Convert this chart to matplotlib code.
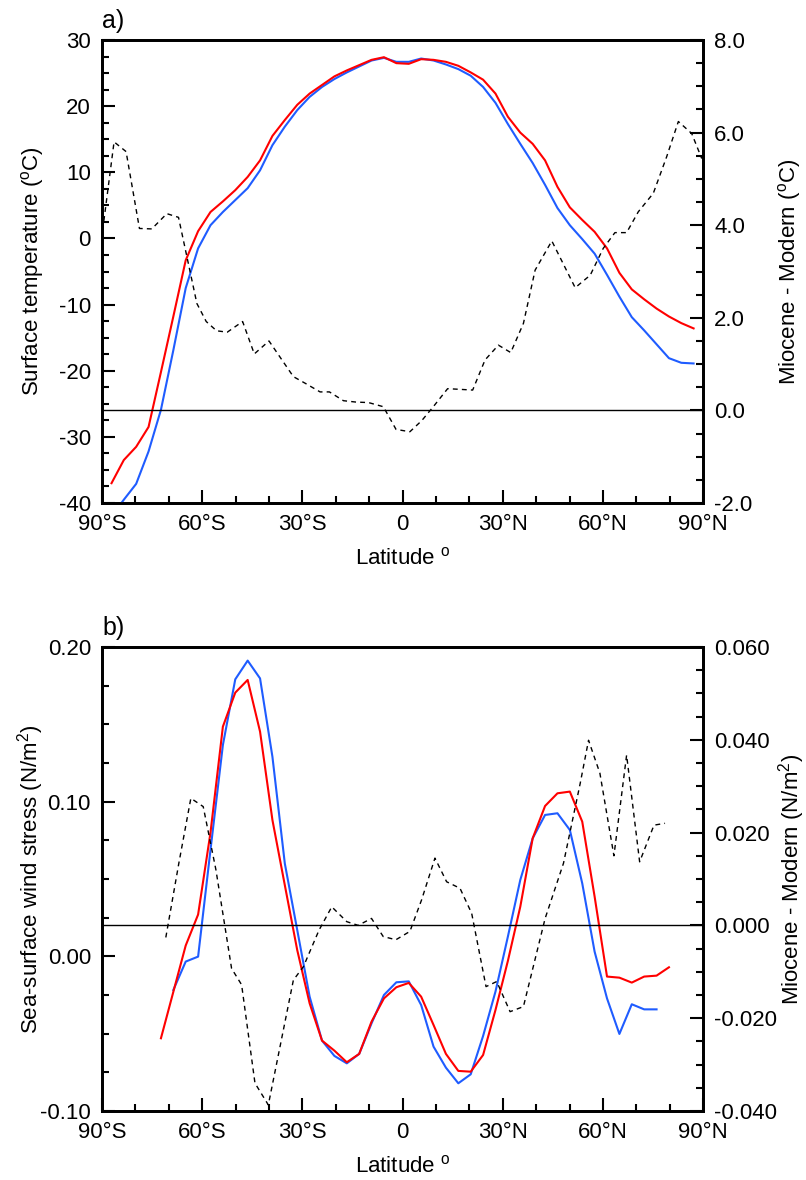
import numpy as np
import matplotlib
matplotlib.use("Agg")
import matplotlib.pyplot as plt
from matplotlib.ticker import MultipleLocator

plt.rcParams['font.family'] = ['Liberation Sans', 'DejaVu Sans']
plt.rcParams['axes.unicode_minus'] = False
plt.rcParams['mathtext.fontset'] = 'custom'
plt.rcParams['mathtext.rm'] = 'Liberation Sans'

# model latitudes (T31 gaussian grid)
lat = np.array([-87.16, -83.48, -79.78, -76.07, -72.36, -68.65, -64.94, -61.23,
                -57.52, -53.81, -50.10, -46.39, -42.68, -38.97, -35.26, -31.54,
                -27.83, -24.12, -20.41, -16.70, -12.99, -9.28, -5.57, -1.86,
                1.86, 5.57, 9.28, 12.99, 16.70, 20.41, 24.12, 27.83,
                31.54, 35.26, 38.97, 42.68, 46.39, 50.10, 53.81, 57.52,
                61.23, 64.94, 68.65, 72.36, 76.07, 79.78, 83.48, 87.16])

# a) surface temperature (C)
sat_miocene = [-37.0, -33.5, -31.5, -28.5, -20.2, -11.8, -3.3, 1.1,
               4.0, 5.6, 7.3, 9.3, 11.8, 15.5, 17.9, 20.2,
               21.9, 23.2, 24.5, 25.4, 26.2, 27.0, 27.4, 26.5,
               26.4, 27.1, 27.0, 26.7, 26.1, 25.1, 24.0, 21.9,
               18.4, 16.0, 14.3, 11.8, 7.8, 4.7, 2.8, 1.0,
               -1.5, -5.2, -7.7, -9.2, -10.6, -11.8, -12.8, -13.6]
sat_modern = [-42.0, -39.5, -37.1, -32.2, -25.9, -16.9, -7.5, -1.5,
              2.0, 4.0, 5.8, 7.6, 10.3, 14.1, 16.9, 19.4,
              21.4, 22.9, 24.1, 25.1, 26.0, 26.9, 27.3, 26.7,
              26.7, 27.2, 26.9, 26.3, 25.6, 24.6, 22.9, 20.5,
              17.3, 14.3, 11.4, 8.1, 4.6, 2.0, -0.1, -2.3,
              -5.5, -8.8, -11.9, -13.9, -16.0, -18.1, -18.8, -18.9]

sat_diff_lat = [-89.8, -86.4, -82.8, -78.8, -75.1, -70.6, -67.1, -61.6, -58.8,
                -55.7, -52.5, -47.9, -44.4, -40.0, -32.7, -29.0, -24.7, -21.9,
                -17.7, -13.9, -10.2, -5.75, -1.95, 2.2, 5.75, 9.2, 13.5, 21.0,
                24.7, 28.7, 32.4, 36.2, 39.7, 44.7, 51.7, 56.2, 60.1, 63.6,
                67.1, 70.6, 75.1, 79.1, 82.6, 86.6, 89.6]
sat_diff = [3.90, 5.80, 5.59, 3.93, 3.92, 4.25, 4.17, 2.31, 1.92,
            1.72, 1.69, 1.92, 1.22, 1.50, 0.73, 0.58, 0.40, 0.40,
            0.21, 0.18, 0.17, 0.08, -0.41, -0.46, -0.22, 0.08, 0.47, 0.44,
            1.09, 1.41, 1.25, 1.88, 3.03, 3.66, 2.65, 2.92, 3.50, 3.84,
            3.84, 4.29, 4.69, 5.48, 6.24, 5.98, 5.44]

# b) sea-surface wind stress (N/m2)
lat_red_b = lat[4:46]
lat_blue_b = lat[5:45]
tau_miocene = [-0.053, -0.023, 0.007, 0.027, 0.080, 0.1485, 0.1705, 0.1787,
               0.1453, 0.0881, 0.046, 0.004, -0.0304, -0.0545, -0.061, -0.0685,
               -0.0631, -0.0422, -0.0272, -0.0200, -0.0172, -0.0261, -0.0444, -0.0631,
               -0.0741, -0.0746, -0.0638, -0.0347, -0.003, 0.0321, 0.0763, 0.0972,
               0.1054, 0.1065, 0.0871, 0.0386, -0.0131, -0.0138, -0.0170, -0.0131,
               -0.0125, -0.0071]
tau_modern = [-0.0218, -0.0034, -0.0002, 0.0688, 0.1366, 0.1791, 0.1912, 0.1797,
              0.129, 0.060, 0.017, -0.0261, -0.0545, -0.0644, -0.0692, -0.0631,
              -0.0433, -0.025, -0.0168, -0.0162, -0.0315, -0.0584, -0.0720, -0.0821,
              -0.0763, -0.0515, -0.0228, 0.0127, 0.0494, 0.0763, 0.0914, 0.0925,
              0.0817, 0.0472, 0.0030, -0.0272, -0.0502, -0.0310, -0.0343, -0.0343]

tau_diff_lat = [-70.9, -67.0, -63.4, -59.7, -55.9, -51.2, -48.2, -44.2, -40.2,
                -32.7, -29.7, -25.0, -21.2, -16.7, -13.3, -9.3, -5.8, -2.0,
                2.2, 5.7, 9.7, 13.2, 17.2, 20.7, 25.0, 28.2, 32.2, 36.2,
                42.7, 48.2, 53.2, 55.7, 59.1, 63.3, 67.1, 71.0, 75.3, 78.6]
tau_diff = [-0.0026, 0.0134, 0.0274, 0.0256, 0.012, -0.0093, -0.0128, -0.034, -0.0387,
            -0.0118, -0.0089, -0.001, 0.0040, 0.0008, 0.0000, 0.0015, -0.0024, -0.0031,
            -0.0013, 0.0055, 0.0145, 0.0094, 0.0080, 0.0026, -0.0132, -0.0121, -0.0186, -0.0175,
            0.0015, 0.0134, 0.0306, 0.0399, 0.0328, 0.0150, 0.0367, 0.0137, 0.0216, 0.0220]

xticks = [-90, -60, -30, 0, 30, 60, 90]
xlabels = ["90°S", "60°S", "30°S", "0", "30°N", "60°N", "90°N"]

RED = "#ff0000"
BLUE = "#1f5cff"
FS = 16

fig = plt.figure(figsize=(8.06, 11.8), dpi=100)


def style(ax, ax2, left_major, left_minor, right_major, right_minor):
    ax.set_xlim(-90, 90)
    ax.set_xticks(xticks)
    ax.set_xticklabels(xlabels)
    ax.xaxis.set_minor_locator(MultipleLocator(10))
    ax.yaxis.set_major_locator(MultipleLocator(left_major))
    ax.yaxis.set_minor_locator(MultipleLocator(left_minor))
    ax2.yaxis.set_major_locator(MultipleLocator(right_major))
    ax2.yaxis.set_minor_locator(MultipleLocator(right_minor))
    for a in (ax, ax2):
        for s in a.spines.values():
            s.set_linewidth(2)
    ax.tick_params(which='both', direction='in', width=1.5, labelsize=FS,
                   top=False, right=False)
    ax.tick_params(which='major', length=9.5, pad=8)
    ax.tick_params(which='minor', length=5)
    ax2.tick_params(which='both', direction='in', width=1.5, labelsize=FS)
    ax2.tick_params(which='major', length=9.5, pad=8)
    ax2.tick_params(which='minor', length=5)
    ax.set_xlabel(r"Latitude $^{\mathrm{o}}$", fontsize=FS)
    ax.xaxis.set_label_coords(0.5, -0.095)
    ax.yaxis.set_label_coords(-0.093, 0.5)
    ax2.yaxis.set_label_coords(1.121, 0.5)


# ---- panel a
ax = fig.add_axes([0.1266, 0.5737, 0.7457, 0.3924])
ax2 = ax.twinx()
ax.plot(lat, sat_modern, color=BLUE, lw=1.5, zorder=3)
ax.plot(lat, sat_miocene, color=RED, lw=1.5, zorder=4)
ax2.plot(sat_diff_lat, sat_diff, color='black', lw=1.0, ls=(0, (3.5, 3)))
ax2.axhline(0, color='black', lw=1.0)
ax.set_ylim(-40, 30)
ax2.set_ylim(-2, 8)
ax.set_ylabel(r"Surface temperature ($^{\mathrm{o}}$C)", fontsize=FS)
ax2.set_ylabel(r"Miocene - Modern ($^{\mathrm{o}}$C)", fontsize=FS)
style(ax, ax2, 10, 2.5, 2, 0.5)
ax2.yaxis.set_major_formatter(lambda v, p: f"{v:.1f}")
ax.text(0.0, 1.015, "a)", transform=ax.transAxes, fontsize=FS + 2, va='bottom')

# ---- panel b
bx = fig.add_axes([0.1266, 0.0585, 0.7457, 0.3932])
bx2 = bx.twinx()
bx.plot(lat_blue_b, tau_modern, color=BLUE, lw=1.5, zorder=3)
bx.plot(lat_red_b, tau_miocene, color=RED, lw=1.5, zorder=4)
bx2.plot(tau_diff_lat, tau_diff, color='black', lw=1.0, ls=(0, (3.5, 3)))
bx2.axhline(0, color='black', lw=1.0)
bx.set_ylim(-0.10, 0.20)
bx2.set_ylim(-0.04, 0.06)
bx.set_ylabel(r"Sea-surface wind stress (N/m$^{\mathrm{2}}$)", fontsize=FS)
bx2.set_ylabel(r"Miocene - Modern (N/m$^{\mathrm{2}}$)", fontsize=FS)
style(bx, bx2, 0.1, 0.025, 0.02, 0.005)
bx.yaxis.set_major_formatter(lambda v, p: f"{v:.2f}")
bx2.yaxis.set_major_formatter(lambda v, p: f"{v:.3f}")
bx.text(0.0, 1.015, "b)", transform=bx.transAxes, fontsize=FS + 2, va='bottom')

fig.savefig("out.png", dpi=100)
